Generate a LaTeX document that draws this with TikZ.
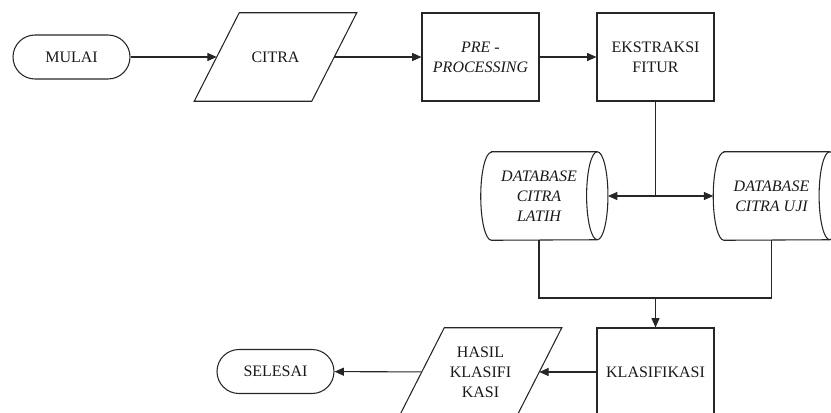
\documentclass[tikz,border=0pt]{standalone}
\usepackage{fontspec}
\setmainfont{Liberation Serif}
\usetikzlibrary{arrows.meta}

\begin{document}
\begin{tikzpicture}[x=0.75pt, y=-0.75pt,
  every node/.style={font=\fontsize{12}{15}\selectfont, align=center, text=black!90},
  miring/.style={font=\fontsize{12}{15}\selectfont\itshape},
  garis/.style={draw=black!85, line width=0.8pt},
  terminal/.style={garis, rectangle, rounded corners=16.5pt, minimum width=87.75pt, minimum height=33pt},
  proses/.style={garis, rectangle, minimum width=87.75pt, minimum height=66pt},
  data/.style={rectangle, minimum width=87.75pt, minimum height=66pt, inner sep=1pt},
  basisdata/.style={rectangle, minimum width=87pt, minimum height=66pt, inner sep=1pt},
  >={Triangle[length=7pt, width=6pt]}]
    \useasboundingbox (0,0) rectangle (831,412);
    \clip (0,0) rectangle (831,412);

    % Alur atas
    \node[terminal] (mulai) at (71.5,57) {MULAI};
    \node[data] (citra) at (275.5,57) {CITRA};
    \node[proses, miring] (pre) at (480.5,57) {PRE -\\PROCESSING};
    \node[proses] (ekstraksi) at (655.5,57) {EKSTRAKSI\\FITUR};

    % Basis data
    \node[basisdata, miring] (latih) at (539,196) {DATABASE\\CITRA\\LATIH};
    \node[basisdata, miring] (uji) at (771.5,196) {DATABASE\\CITRA UJI};

    % Alur bawah
    \node[proses] (klasifikasi) at (655.5,372) {KLASIFIKASI};
    \node[data] (hasil) at (480.5,372) {HASIL\\KLASIFI\\KASI};
    \node[terminal] (selesai) at (275.5,371.5) {SELESAI};

    % Jajaran genjang data
    \foreach \n in {citra, hasil}
      \draw[garis] ([xshift=16.9pt]\n.north west) -- ([xshift=16.9pt]\n.north east)
        -- ([xshift=-16.9pt]\n.south east) -- ([xshift=-16.9pt]\n.south west) -- cycle;

    % Tabung basis data
    \foreach \n in {latih, uji} {
      \draw[garis] ([xshift=8pt]\n.north west) -- (\n.north east)
        arc[start angle=90, end angle=-90, x radius=8pt, y radius=33pt]
        -- ([xshift=8pt]\n.south west)
        arc[start angle=270, end angle=90, x radius=8pt, y radius=33pt] -- cycle;
      \draw[garis] (\n.north east) arc[start angle=90, end angle=270, x radius=8pt, y radius=33pt];
    }

    \coordinate (cabang) at (ekstraksi |- latih);
    \coordinate (gabung) at (655.5,298);

    % Panah
    \foreach \a/\b in {mulai/citra, citra/pre, pre/ekstraksi, klasifikasi/hasil, hasil/selesai}
      \draw[garis, ->] (\a) -- (\b);
    \draw[garis] (ekstraksi) -- (cabang);
    \draw[garis, ->] (cabang) -- ([xshift=8pt]latih.east);
    \draw[garis, ->] (cabang) -- (uji);
    \draw[garis] (latih.south) |- (gabung) -| (uji.south);
    \draw[garis, ->] (gabung) -- (klasifikasi);
\end{tikzpicture}
\end{document}
